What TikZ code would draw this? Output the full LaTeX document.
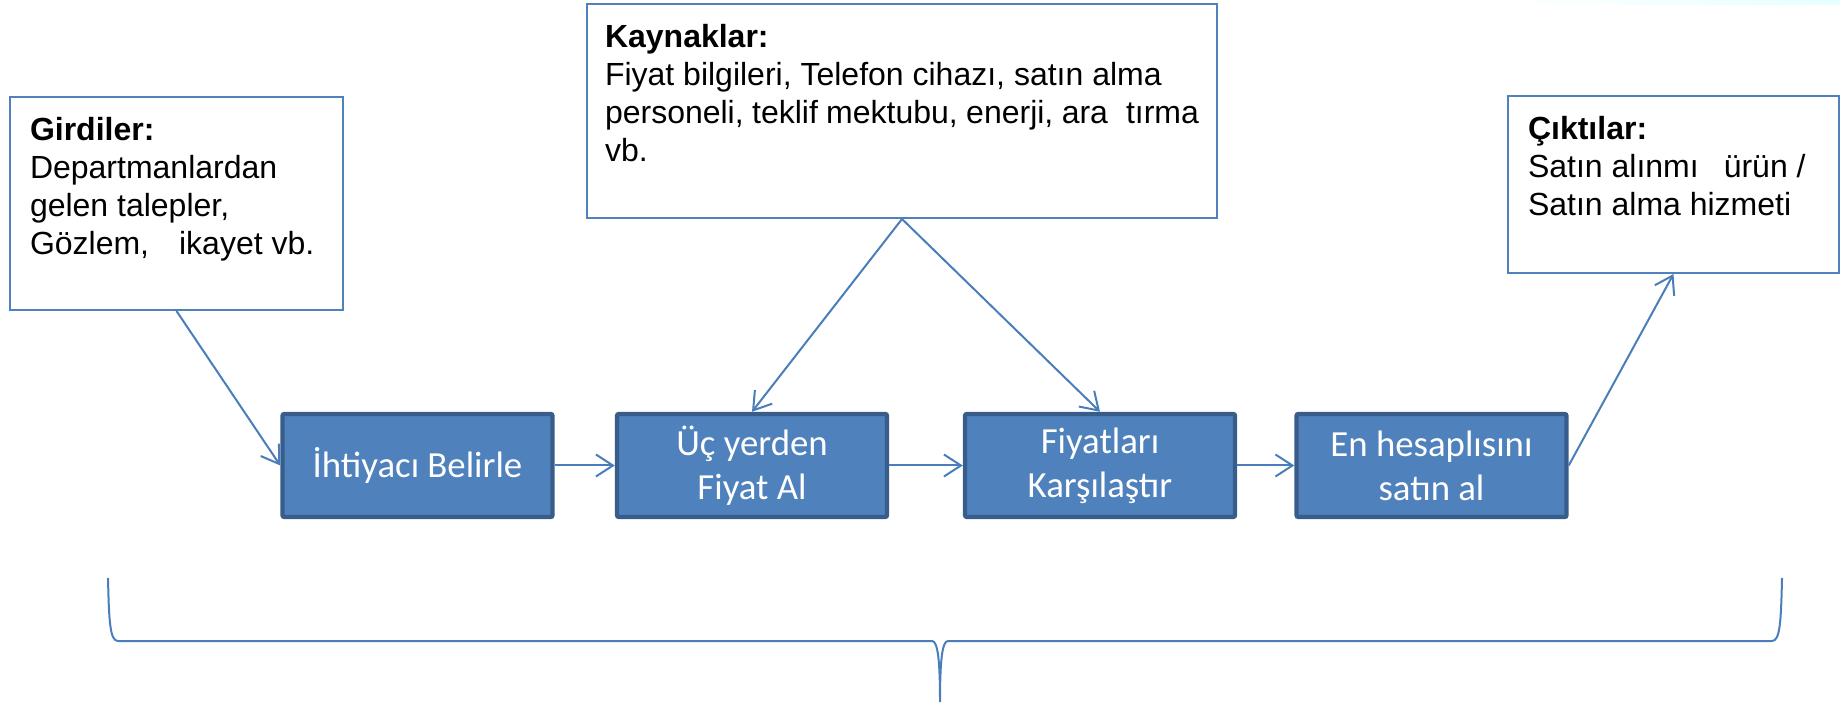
\documentclass[tikz,border=0pt]{standalone}
\usepackage{fontspec}
\setmainfont{Liberation Sans}
\newfontfamily\calibri{Carlito}
\usepackage{tikz}
\usetikzlibrary{arrows.meta}
\definecolor{procfill}{HTML}{4F81BD}
\definecolor{procline}{HTML}{385D8A}
\definecolor{boxline}{HTML}{4F81BD}
\definecolor{flowblue}{HTML}{4A7EBB}

\begin{document}
\begin{tikzpicture}[x=0.5pt,y=-0.5pt,
        infobox/.style={draw=boxline,line width=1pt,fill=white,anchor=north west,inner sep=10pt,font=\fontsize{16}{19}\selectfont},
        procbox/.style={draw=procline,line width=2.2pt,rounded corners=1pt,fill=procfill,text=white,minimum width=135pt,minimum height=51.5pt,align=center,font=\calibri\fontsize{18.4}{22}\selectfont},
        flow/.style={draw=flowblue,line width=1pt,-{Straight Barb[length=8.5pt,width=11pt]}}]
        \useasboundingbox (0,0) rectangle (1840,704);
        \shade[left color=white,right color=cyan!10] (1510,0) rectangle (1840,5);
        \node[infobox] (0) at (9,96){\begin{minipage}[t][86.5pt][t]{146.5pt}\textbf{Girdiler:}\\Departmanlardan\\gelen talepler,\\Gözlem,\hspace{15pt}ikayet vb.\end{minipage}};
        \node[procbox] (1) at (417.5,465.5){İhtiyacı Belirle};
        \node[procbox] (2) at (752,465.5){Üç yerden\\Fiyat Al};
        \node[procbox] (3) at (1100,465.5){Fiyatları\\Karşılaştır};
        \node[procbox] (4) at (1431.5,465.5){En hesaplısını\\satın al};
        \node[infobox,inner xsep=9pt] (5) at (586,3){\begin{minipage}[t][87pt][t]{297pt}\textbf{Kaynaklar:}\\Fiyat bilgileri, Telefon cihazı, satın alma\\personeli, teklif mektubu, enerji, ara\hspace{9pt}tırma\\vb.\end{minipage}};
        \node[infobox] (6) at (1507,95){\begin{minipage}[t][68.5pt][t]{145.5pt}\textbf{Çıktılar:}\\Satın alınmı\hspace{12.5pt}ürün /\\Satın alma hizmeti\end{minipage}};
        \draw[flow] (0.south) -- (1.west);
        \draw[flow] (1) -- (2);
        \draw[flow] (2) -- (3);
        \draw[flow] (3) -- (4);
        \draw[flow] (5.south) -- (2.north);
        \draw[flow] (5.south) -- (3.north);
        \draw[flow] (4.east) -- (6.south);
        \draw[flowblue,line width=1pt] (108,578) .. controls (109,622) and (110,641) .. (118,641) -- (932,641) .. controls (938,641) and (940,662) .. (940,702) .. controls (940,662) and (942,641) .. (948,641) -- (1772,641) .. controls (1780,641) and (1781,622) .. (1782,578);
    \end{tikzpicture}
\end{document}
